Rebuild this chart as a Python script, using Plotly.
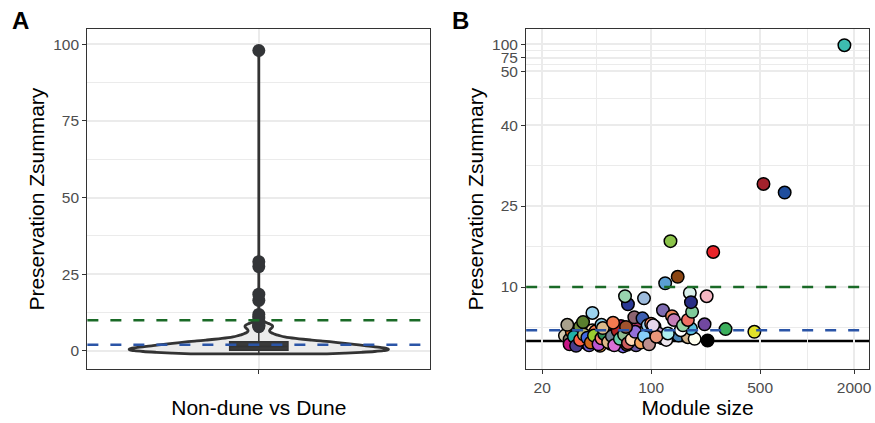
import math
import plotly.graph_objects as go

# ---------------- data ----------------
module_size = [
    28, 30, 31, 31.6, 33, 34, 35, 36.6, 38, 39, 40, 42, 44, 45, 47, 52, 54, 55, 59, 60,
    62, 64, 66, 66, 70, 73, 77, 80, 82, 84, 92, 95, 100, 105, 110, 118, 125, 150, 172, 190,
    30, 32, 33, 35, 37, 39, 41, 43, 46, 48, 50, 53, 56, 58, 61, 63, 67, 71, 75, 79,
    86, 90, 97, 108, 128,
    180, 155, 230, 300, 459,
    29, 36.6, 42, 48, 49, 57, 69, 78, 88, 95, 100, 103, 119, 136, 140, 160, 172, 183, 220,
    71, 68, 90, 177, 180, 227, 123, 148, 133, 250, 525, 718, 1734,
]
zsummary = [
    1.0, 0.3, 1.7, -0.2, 0.5, 1.5, 2.6, -0.2, 0.0, -0.5, -0.8, 2.0, 1.8, 0.3, -0.9, 0.8, 2.5, -0.5, 1.5, 0.1,
    -0.3, 2.8, -1.0, 0.0, -0.7, 1.0, 1.5, -0.8, 2.6, 0.7, 1.9, 0.0, 0.6, 2.7, 1.5, 0.5, 0.2, 1.0, 0.7, 0.4,
    -0.6, 0.8, -0.9, 0.2, 1.2, 0.6, -0.3, 1.0, -0.6, 0.5, 1.3, -0.2, 0.9, -0.8, 1.9, 0.4, 1.2, -0.4, 0.3, 1.7,
    -0.3, 0.9, -0.6, 0.8, 1.4,
    2.3, 2.0, 0.1, 2.2, 1.7,
    3.0, 3.5, 5.2, 3.0, 2.4, 3.4, 2.6, 4.4, 4.2, 2.9, 3.2, 2.9, 5.7, 4.6, 3.9, 2.9, 3.9, 5.4, 3.1,
    6.8, 8.3, 7.9, 8.9, 7.2, 8.3, 10.7, 11.9, 18.5, 16.5, 29.1, 27.5, 98.0,
]
module_color = [
    "#D2C9B0", "#8B7D6B", "#E8641E", "#E8388A", "#A8D8B9", "#128A8A", "#6E8B3D", "#8E1C5C", "#CD853F", "#3A5FCD",
    "#6A5ACD", "#F6DEB0", "#FF7F50", "#B0B0B0", "#F39C3C", "#C8A882", "#CD5C5C", "#9467BD", "#F0F0F0", "#556B2F",
    "#E5E5E5", "#8B0A50", "#7B68EE", "#E1E13A", "#6B4226", "#FFB6C1", "#B5C224", "#6C5AA8", "#B03060", "#DDA0DD",
    "#F0E68C", "#7F7F22", "#D8BFD8", "#5F9EA0", "#C9A0D0", "#4B8FCB", "#EEE8F0", "#4682B4", "#D2B48C", "#FFFFF0",
    "#C71585", "#20B2AA", "#483D8B", "#FF6347", "#BDB76B", "#4169E1", "#D2691E", "#9ACD32", "#BA55D3", "#FA8072",
    "#2E8B57", "#DEB887", "#708090", "#DA70D6", "#B22222", "#66CDAA", "#8FBC8F", "#CD5C5C", "#FFDAB9", "#9370DB",
    "#F4A460", "#87CEFA", "#BC8F8F", "#E9967A", "#AFEEEE",
    "#5BC0E0", "#FFFFFF", "#000000", "#3BAF5C", "#E2E22A",
    "#A9A18C", "#5A7F2E", "#9BD3F0", "#87CEEB", "#D9B98A", "#F27B50", "#A0522D", "#8C6470", "#3F5FB0", "#A6D3F2",
    "#FF8C69", "#E6D6EA", "#7E6BB0", "#E8845A", "#C47EB7", "#96D5A5", "#EF6F63", "#7FCB9A", "#7148A0",
    "#2B3A96", "#98D5AE", "#9DBBDD", "#D9F0EB", "#272D84", "#F4B6C2", "#5A9FD4", "#8B4513", "#8BC34A", "#E8242A",
    "#A3222C", "#1F4E9E", "#3DBDB0",
]

strong_threshold = 10
weak_threshold = 2
zero_level = 0

y_tick_values_a = [0, 25, 50, 75, 100]
y_tick_values_b = [10, 25, 40, 50, 75, 100]
x_tick_values_b = [20, 100, 500, 2000]

# squished y scale of panel B (linear up to 50, compressed above)
def squish(v):
    return v if v <= 50 else 50 + (v - 50) * 0.1

FONT = "Liberation Sans, Arial, Helvetica, sans-serif"
GRID = "#EBEBEB"
BORDER = "#333333"
TICKC = "#4D4D4D"
GREEN = "#1A6A27"
BLUE = "#2B55A7"

fig = go.Figure()

# ---------------- panel A ----------------
fig.add_trace(go.Violin(
    y=zsummary, x0=0, width=0.756, bandwidth=0.8, spanmode="hard",
    fillcolor="#EBEBEB", line=dict(color="#333333", width=2.8),
    points=False, box_visible=False, meanline_visible=False,
    xaxis="x", yaxis="y", showlegend=False, hoverinfo="skip",
))
fig.add_trace(go.Box(
    y=zsummary, x0=0, width=0.17, fillcolor="#3A3A3A",
    line=dict(color="#333333", width=1.5), whiskerwidth=0,
    boxpoints="outliers", marker=dict(color="#333538", size=13),
    xaxis="x", yaxis="y", showlegend=False, hoverinfo="skip",
))

# ---------------- panel B ----------------
fig.add_trace(go.Scatter(
    x=module_size, y=[squish(v) for v in zsummary], mode="markers",
    marker=dict(size=12.5, color=module_color, line=dict(color="black", width=1.5)),
    xaxis="x2", yaxis="y2", showlegend=False, hoverinfo="skip",
))

shapes = []
def hline(y, xref, yref, color, dash, layer):
    shapes.append(dict(type="line", xref=xref + " domain", yref=yref, x0=0, x1=1, y0=y, y1=y,
                       line=dict(color=color, width=2.4, dash=dash), layer=layer))

hline(strong_threshold, "x", "y", GREEN, "11px,12px", "above")
hline(weak_threshold, "x", "y", BLUE, "11px,12px", "above")
hline(zero_level, "x2", "y2", "black", "solid", "below")
hline(squish(strong_threshold), "x2", "y2", GREEN, "11px,12px", "above")
hline(squish(weak_threshold), "x2", "y2", BLUE, "11px,12px", "above")

common_axis = dict(showline=True, mirror=True, linecolor=BORDER, linewidth=1.3,
                   ticks="outside", ticklen=4, tickcolor=BORDER, tickwidth=1.1,
                   showgrid=True, gridcolor=GRID, gridwidth=1.6, zeroline=False,
                   tickfont=dict(family=FONT, size=15.5, color=TICKC),
                   title_font=dict(family=FONT, size=21, color="black"))

ydom = [0.127, 0.9314]

fig.update_layout(
    width=875, height=423, margin=dict(l=0, r=0, t=0, b=0),
    paper_bgcolor="white", plot_bgcolor="white",
    violinmode="overlay", boxmode="overlay",
    shapes=shapes,
    xaxis=dict(common_axis, domain=[0.1002, 0.4934], range=[-0.5, 0.5],
               tickvals=[0], ticktext=[""], title=dict(text="Non-dune vs Dune", standoff=23),
               anchor="y"),
    yaxis=dict(common_axis, domain=ydom, range=[-6, 105], tickvals=y_tick_values_a,
               ticktext=[str(v) for v in y_tick_values_a],
               minor=dict(tickvals=[12.5, 37.5, 62.5, 87.5], showgrid=True, gridcolor=GRID, gridwidth=0.9),
               title=dict(text="Preservation Zsummary", standoff=2), anchor="x"),
    xaxis2=dict(common_axis, type="log", domain=[0.6034, 0.9966],
                range=[math.log10(15.8), 3.397], tickvals=x_tick_values_b,
                ticktext=[str(v) for v in x_tick_values_b],
                minor=dict(tickvals=[44.72, 223.6, 1000], showgrid=True, gridcolor=GRID, gridwidth=0.9),
                title=dict(text="Module size", standoff=4), anchor="y2"),
    yaxis2=dict(common_axis, domain=ydom, range=[-5.24, 57.8],
                tickvals=[squish(v) for v in y_tick_values_b],
                ticktext=[str(v) for v in y_tick_values_b],
                minor=dict(tickvals=[2.5, 17.5, 32.5, 45, 51.25, 53.75], showgrid=True,
                           gridcolor=GRID, gridwidth=0.9),
                title=dict(text="Preservation Zsummary", standoff=2), anchor="x2"),
    annotations=[
        dict(text="<b>A</b>", x=0.011, y=0.988, xref="paper", yref="paper", xanchor="left",
             yanchor="top", showarrow=False, font=dict(family=FONT, size=24, color="black")),
        dict(text="<b>B</b>", x=0.516, y=0.988, xref="paper", yref="paper", xanchor="left",
             yanchor="top", showarrow=False, font=dict(family=FONT, size=24, color="black")),
    ],
)

fig.write_html("out.html", config={"displayModeBar": False},
               post_script="document.body.style.margin='0';")
